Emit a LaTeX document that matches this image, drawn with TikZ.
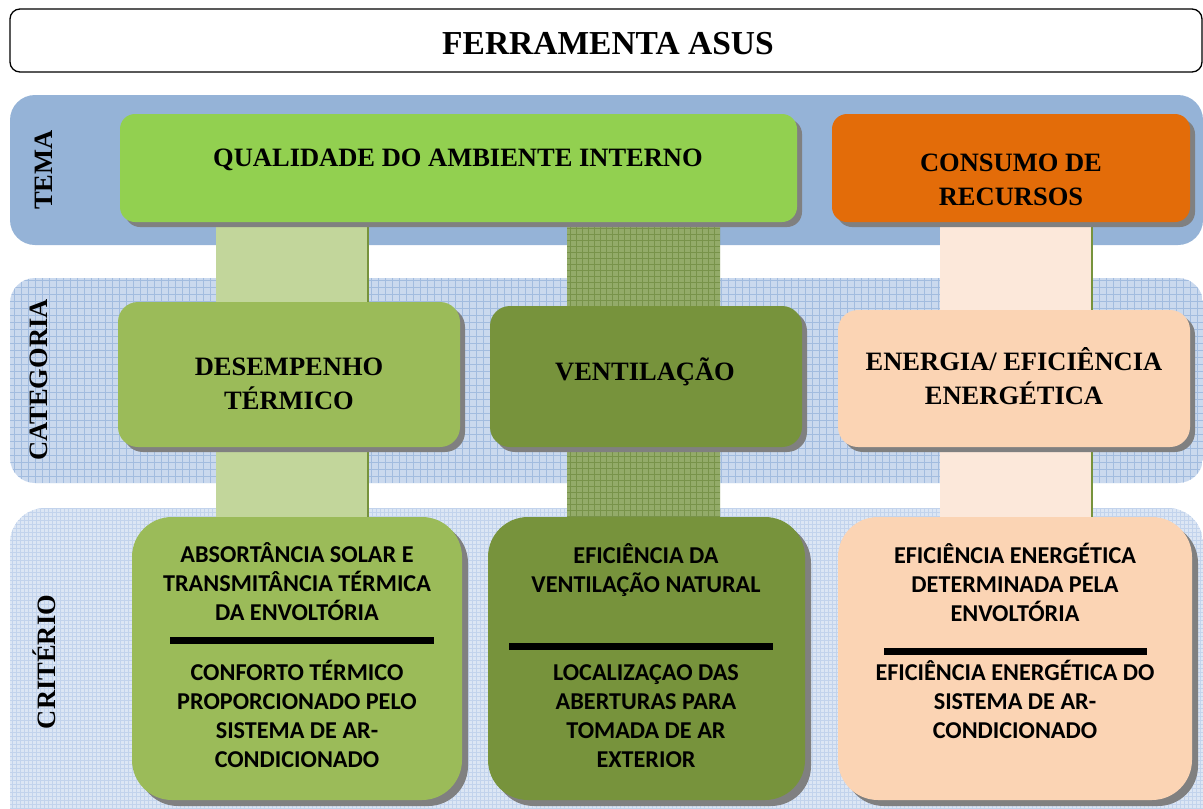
\documentclass[tikz,border=0pt]{standalone}
\usepackage{fontspec}
\setmainfont{Liberation Serif}
\newfontfamily\calib{Carlito}
\usetikzlibrary{positioning,shadows}

\definecolor{temablue}{HTML}{95B3D7}
\definecolor{catblue}{HTML}{CAD9EE}
\definecolor{catline}{HTML}{A2BCDF}
\definecolor{critblue}{HTML}{DCE6F4}
\definecolor{critline}{HTML}{C2D3EC}
\definecolor{qaigreen}{HTML}{92D050}
\definecolor{recorange}{HTML}{E36C09}
\definecolor{dtgreen}{HTML}{9BBB59}
\definecolor{vgreen}{HTML}{77933C}
\definecolor{peach}{HTML}{FBD4B4}
\definecolor{lbar}{HTML}{C2D69B}
\definecolor{mbar}{HTML}{93AB69}
\definecolor{mline}{HTML}{78934A}
\definecolor{rbar}{HTML}{FCE8DA}
\definecolor{shade}{HTML}{808080}

\pgfdeclarelayer{bg}
\pgfdeclarelayer{links}
\pgfsetlayers{bg,links,main}

\tikzstyle{ttl} = [rectangle, rounded corners=10pt, draw=black, line width=1.3pt, fill=white, font=\fontsize{33.5}{36}\selectfont\bfseries]
\tikzstyle{tm} = [rectangle, rounded corners=15pt, inner sep=0pt, drop shadow={shadow xshift=5pt, shadow yshift=-5pt, fill=shade, opacity=1}]
\tikzstyle{ct} = [tm, rounded corners=20pt]
\tikzstyle{cr} = [rectangle, rounded corners=40pt, inner sep=0pt, drop shadow={shadow xshift=6pt, shadow yshift=-6pt, fill=shade, opacity=1}]
\tikzstyle{btxt} = [align=center, inner sep=0pt, font=\fontsize{26.5}{34}\selectfont\bfseries]
\tikzstyle{ctxt} = [align=center, inner sep=0pt, font=\calib\fontsize{24.2}{29}\selectfont\bfseries]
\tikzstyle{rowlbl} = [rotate=90, inner sep=0pt, font=\fontsize{26.5}{30}\selectfont\bfseries]
\tikzstyle{divbar} = [line width=7pt]

\begin{document}
\begin{tikzpicture}[x=1pt,y=-1pt]
\useasboundingbox (0,0) rectangle (1203,809);

% bands
\begin{pgfonlayer}{bg}
\fill[temablue, rounded corners=25pt] (10,95) rectangle (1203,245);
\begin{scope}
  \clip[rounded corners=25pt] (10,278) rectangle (1203,483);
  \fill[catblue] (10,278) rectangle (1203,483);
  \draw[catline, line width=.7pt] (10,278) grid[step=7pt] (1203,483);
\end{scope}
\begin{scope}
  \clip[rounded corners=35pt] (10,508) rectangle (1203,840);
  \fill[critblue] (10,508) rectangle (1203,840);
  \draw[critline, line width=.5pt] (10,508) grid[step=4pt] (1203,840);
\end{scope}
\end{pgfonlayer}

\node[ttl, minimum width=1192, minimum height=63] (title) at (606,40.5) {};
\node[ttl, draw=none, fill=none] (titletxt) at (608,44) {FERRAMENTA ASUS};

\node[rowlbl] (ltema) at (44,170) {TEMA};
\node[rowlbl] (lcat) at (39,380) {CATEGORIA};
\node[rowlbl] (lcrit) at (44,662) {CRITÉRIO};

% tema
\node[tm, fill=qaigreen, minimum width=677, minimum height=108] (qai) at (458.5,168) {};
\node[btxt] (qaitxt) at (458,160) {QUALIDADE DO AMBIENTE INTERNO};
\node[tm, fill=recorange, minimum width=358, minimum height=108] (rec) at (1011,168) {};
\node[btxt] (rectxt) at (1011,180) {CONSUMO DE\\RECURSOS};

% categoria
\node[ct, fill=dtgreen, minimum width=342, minimum height=145] (dt) at (289,374.5) {};
\node[btxt] (dttxt) at (289,384) {DESEMPENHO\\TÉRMICO};
\node[ct, fill=vgreen, minimum width=312, minimum height=141] (vent) at (646,376.5) {};
\node[btxt] (venttxt) at (645,372) {VENTILAÇÃO};
\node[ct, fill=peach, minimum width=352, minimum height=137] (ener) at (1014,378.5) {};
\node[btxt] (enertxt) at (1014,376) {ENERGIA/ EFICIÊNCIA\\ENERGÉTICA};

% criterio
\node[cr, fill=dtgreen, minimum width=330, minimum height=283] (c1) at (297,658.5) {};
\node[ctxt] (c1a) at (297,582) {ABSORTÂNCIA SOLAR E\\TRANSMITÂNCIA TÉRMICA\\DA ENVOLTÓRIA};
\draw[divbar] (170,640) -- (434,640);
\node[ctxt] (c1b) at (297,714) {CONFORTO TÉRMICO\\PROPORCIONADO PELO\\SISTEMA DE AR-\\CONDICIONADO};

\node[cr, fill=vgreen, minimum width=317, minimum height=283] (c2) at (646.5,658.5) {};
\node[ctxt] (c2a) at (646,570) {EFICIÊNCIA DA\\VENTILAÇÃO NATURAL};
\draw[divbar] (509,646) -- (773,646);
\node[ctxt] (c2b) at (646,716) {LOCALIZAÇAO DAS\\ABERTURAS PARA\\TOMADA DE AR\\EXTERIOR};

\node[cr, fill=peach, minimum width=354, minimum height=283] (c3) at (1015,658.5) {};
\node[ctxt] (c3a) at (1015,582) {EFICIÊNCIA ENERGÉTICA\\DETERMINADA PELA\\ENVOLTÓRIA};
\draw[divbar] (884,651) -- (1147,651);
\node[ctxt] (c3b) at (1015,699) {EFICIÊNCIA ENERGÉTICA DO\\SISTEMA DE AR-\\CONDICIONADO};

% links
\begin{pgfonlayer}{links}
\fill[lbar] (216,0 |- qai.south) rectangle (368,0 |- c1.north);
\draw[vgreen, line width=1.2pt] (368,0 |- qai.south) -- (368,0 |- c1.north);
\fill[mbar] (567,0 |- qai.south) rectangle (720,0 |- c2.north);
\begin{scope}
  \clip (567,0 |- qai.south) rectangle (720,0 |- c2.north);
  \draw[mline, line width=.6pt] (567,200) grid[step=6pt] (720,540);
\end{scope}
\fill[rbar] (940,0 |- rec.south) rectangle (1092,0 |- c3.north);
\draw[vgreen, line width=1.2pt] (1092,0 |- rec.south) -- (1092,0 |- c3.north);
\end{pgfonlayer}
\end{tikzpicture}
\end{document}
